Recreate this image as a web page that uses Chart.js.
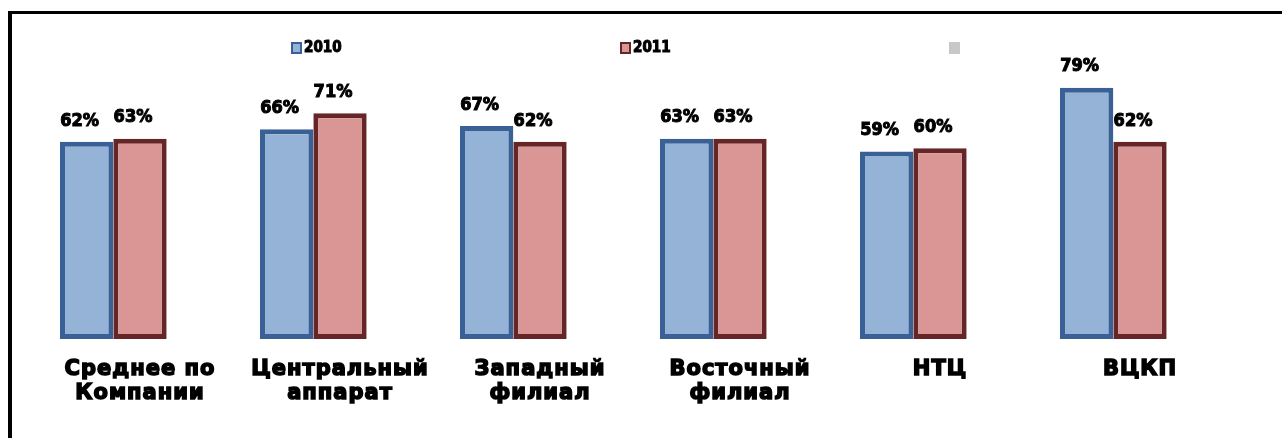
<!DOCTYPE html>
<html>
<head>
<meta charset="utf-8">
<script src="https://cdn.jsdelivr.net/npm/chart.js@4"></script>
<style>
  body { margin: 0; background: #fff; }
  #wrap { position: relative; width: 1282px; height: 438px; overflow: hidden; }
  #frame { position: absolute; left: 8px; top: 11px; width: 1400px; height: 500px;
           border-top: 3px solid #000; border-left: 4px solid #000; }
  #myChart { position: absolute; left: 0; top: 0; }
</style>
</head>
<body>
<div id="wrap">
  <div id="frame"></div>
  <canvas id="myChart" width="1282" height="438"></canvas>
</div>
<script>
const categorias = [
  ['Среднее по', 'Компании'],
  ['Центральный', 'аппарат'],
  ['Западный', 'филиал'],
  ['Восточный', 'филиал'],
  'НТЦ',
  'ВЦКП'
];
const anios = ['2010', '2011', ''];
const valores2010 = [62, 66, 67, 63, 59, 79];
const valores2011 = [63, 71, 62, 63, 60, 62];
const valoresVacios = [null, null, null, null, null, null];

const fuente = '"DejaVu Sans", Arial, sans-serif';
const fuenteEstrecha = '"DejaVu Sans Condensed", "Liberation Sans Narrow", Arial, sans-serif';
const ctx = document.getElementById('myChart');

// las etiquetas del eje en el original son muy anchas
const espaciado = {
  id: 'espaciado',
  beforeDraw(chart) { chart.ctx.letterSpacing = '1px'; },
  beforeDatasetsDraw(chart) { chart.ctx.letterSpacing = '0px'; }
};

// etiquetas de porcentaje encima de las barras
const etiquetas = {
  id: 'etiquetas',
  afterDatasetsDraw(chart) {
    const c = chart.ctx;
    c.save();
    c.font = 'bold 18px ' + fuenteEstrecha;
    c.fillStyle = '#000';
    c.strokeStyle = '#000';
    c.lineWidth = 1;
    c.textAlign = 'center';
    c.textBaseline = 'bottom';
    [0, 1].forEach((i) => {
      const meta = chart.getDatasetMeta(i);
      meta.data.forEach((bar, j) => {
        const v = chart.data.datasets[i].data[j];
        if (v == null) return;
        c.fillText(v + '%', bar.x - 7, bar.y - 12);
        c.strokeText(v + '%', bar.x - 7, bar.y - 12);
      });
    });
    c.restore();
  }
};

// leyenda propia: tres entradas muy separadas como en el original
const leyenda = {
  id: 'leyenda',
  afterDraw(chart) {
    const c = chart.ctx;
    const centro = (chart.chartArea.left + chart.chartArea.right) / 2;
    c.save();
    c.font = 'bold 15px ' + fuenteEstrecha;
    c.textBaseline = 'middle';
    c.textAlign = 'left';
    chart.data.datasets.forEach((ds, i) => {
      const x = centro - 20 + (i - 1) * 329;
      const y = 42;
      c.fillStyle = ds.backgroundColor;
      c.fillRect(x, y, 11, 12);
      if (i < 2) {
        c.strokeStyle = ds.borderColor;
        c.lineWidth = 2;
        c.strokeRect(x + 1, y + 1, 9, 10);
      }
      c.fillStyle = '#000';
      c.strokeStyle = '#000';
      c.lineWidth = 1;
      c.fillText(ds.label, x + 13, y + 6);
      c.strokeText(ds.label, x + 13, y + 6);
    });
    c.restore();
  }
};

new Chart(ctx, {
  type: 'bar',
  data: {
    labels: categorias,
    datasets: [{
      label: anios[0],
      data: valores2010,
      backgroundColor: '#95B3D7',
      borderColor: '#3A6196',
      borderWidth: 5,
      borderSkipped: false
    },
    {
      label: anios[1],
      data: valores2011,
      backgroundColor: '#D99694',
      borderColor: '#662526',
      borderWidth: 5,
      borderSkipped: false
    },
    {
      label: anios[2],
      data: valoresVacios,
      backgroundColor: '#C8C8C8',
      borderColor: '#C8C8C8',
      borderWidth: 0
    }]
  },
  options: {
    responsive: false,
    animation: false,
    devicePixelRatio: 1,
    layout: { padding: { left: 40, right: 42, top: 56, bottom: 13 } },
    datasets: { bar: { categoryPercentage: 0.8, barPercentage: 1.0 } },
    plugins: {
      tooltip: { enabled: false },
      legend: { display: false }
    },
    scales: {
      x: {
        grid: { display: false, drawTicks: false },
        border: { display: false },
        ticks: {
          color: '#000',
          padding: 19,
          maxRotation: 0,
          textStrokeColor: '#000',
          textStrokeWidth: 1.5,
          font: { family: fuente, size: 21, weight: 'bold', lineHeight: 1.143 }
        }
      },
      y: {
        display: false,
        min: 0,
        max: 89
      }
    }
  },
  plugins: [espaciado, etiquetas, leyenda]
});
</script>
</body>
</html>
